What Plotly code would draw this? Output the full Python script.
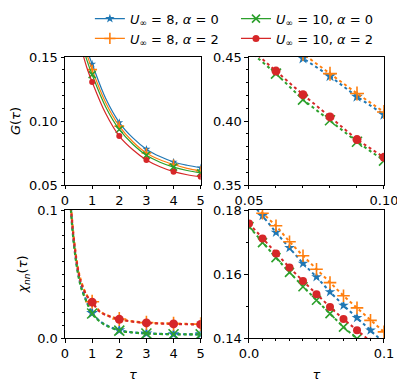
import plotly.graph_objects as go

# series: U_inf=8 a=0 (blue star), U_inf=8 a=2 (orange +), U_inf=10 a=0 (green x), U_inf=10 a=2 (red dot)
labels = ["<i>U</i><sub>∞</sub> = 8, <i>α</i> = 0", "<i>U</i><sub>∞</sub> = 8, <i>α</i> = 2",
          "<i>U</i><sub>∞</sub> = 10, <i>α</i> = 0", "<i>U</i><sub>∞</sub> = 10, <i>α</i> = 2"]
colors = ["#1f77b4", "#ff7f0e", "#2ca02c", "#d62728"]
symbols = ["star", "cross-thin", "x-thin", "circle"]

# top-left: G(tau), long times
tau_g = [0.6, 0.8, 1.0, 1.5, 2.0, 2.5, 3.0, 3.5, 4.0, 4.5, 5.0]
g_lines = [
    [0.170, 0.156, 0.1445, 0.1175, 0.0988, 0.0868, 0.0780, 0.0722, 0.0680, 0.0654, 0.0635],
    [0.167, 0.1525, 0.1401, 0.1142, 0.0960, 0.0838, 0.0750, 0.0697, 0.0660, 0.0630, 0.0610],
    [0.163, 0.148, 0.1362, 0.1110, 0.0934, 0.0818, 0.0732, 0.0678, 0.0640, 0.0613, 0.0595],
    [0.157, 0.142, 0.1305, 0.1058, 0.0882, 0.0775, 0.0695, 0.0642, 0.0604, 0.0580, 0.0565],
]
tau_int = [1, 2, 3, 4, 5]
g_marks = [
    [0.1445, 0.0988, 0.0780, 0.0680, 0.0635],
    [0.1401, 0.0960, 0.0750, 0.0660, 0.0610],
    [0.1362, 0.0934, 0.0732, 0.0640, 0.0595],
    [0.1305, 0.0882, 0.0695, 0.0604, 0.0565],
]

# top-right: G(tau), short times
tau_s = [0.05, 0.06, 0.07, 0.08, 0.09, 0.10]
g_short = [
    [0.483, 0.466, 0.449, 0.435, 0.419, 0.405],
    [0.486, 0.469, 0.4525, 0.437, 0.4215, 0.407],
    [0.455, 0.437, 0.4167, 0.4006, 0.3838, 0.369],
    [0.4575, 0.439, 0.4206, 0.4032, 0.3855, 0.3716],
]

# bottom-left: chi_nn(tau), long times
tau_c = [0.15, 0.2, 0.3, 0.4, 0.5, 0.6, 0.8, 1.0, 1.25, 1.5, 2.0, 2.5, 3.0, 4.0, 5.0]
chi_lines = [
    [0.129, 0.107, 0.080, 0.062, 0.049, 0.040, 0.0285, 0.0195, 0.0138, 0.0102, 0.0060, 0.0044, 0.0036, 0.0030, 0.0029],
    [0.131, 0.109, 0.083, 0.065, 0.052, 0.044, 0.0335, 0.0283, 0.0215, 0.0182, 0.0148, 0.0130, 0.0120, 0.0112, 0.0108],
    [0.128, 0.106, 0.079, 0.061, 0.048, 0.039, 0.0280, 0.0191, 0.0135, 0.0100, 0.0058, 0.0043, 0.0035, 0.0029, 0.0028],
    [0.130, 0.108, 0.082, 0.064, 0.051, 0.043, 0.0330, 0.0280, 0.0212, 0.0180, 0.0146, 0.0128, 0.0118, 0.0110, 0.0106],
]
chi_marks = [
    [0.0195, 0.0060, 0.0036, 0.0030, 0.0029],
    [0.0283, 0.0148, 0.0120, 0.0112, 0.0108],
    [0.0191, 0.0058, 0.0035, 0.0029, 0.0028],
    [0.0280, 0.0146, 0.0118, 0.0110, 0.0106],
]

# bottom-right: chi_nn(tau), short times
tau_cs = [0.00, 0.01, 0.02, 0.03, 0.04, 0.05, 0.06, 0.07, 0.08, 0.09, 0.10]
chi_short = [
    [0.1830, 0.1782, 0.1730, 0.1682, 0.1633, 0.1591, 0.1544, 0.1502, 0.1463, 0.1424, 0.1385],
    [0.1835, 0.1790, 0.1751, 0.1701, 0.1657, 0.1615, 0.1573, 0.1532, 0.1494, 0.1455, 0.1419],
    [0.1748, 0.1698, 0.1651, 0.1605, 0.1560, 0.1518, 0.1476, 0.1434, 0.1398, 0.1360, 0.1325],
    [0.1758, 0.1711, 0.1664, 0.1620, 0.1578, 0.1537, 0.1497, 0.1459, 0.1424, 0.1388, 0.1355],
]

FONT = "DejaVu Sans"
FS = 13
fig = go.Figure()


def marker(i, size):
    thin = symbols[i] in ("cross-thin", "x-thin")
    return dict(symbol=symbols[i], size=size + (1 if thin else 0), color=colors[i],
                line=dict(color=colors[i], width=1.6 if thin else 0))


for i in range(4):
    # top-left
    fig.add_trace(go.Scatter(x=tau_g, y=g_lines[i], mode="lines", line=dict(color=colors[i], width=1.2, shape="spline"),
                             xaxis="x", yaxis="y", showlegend=False))
    fig.add_trace(go.Scatter(x=tau_int, y=g_marks[i], mode="markers", marker=marker(i, 6),
                             xaxis="x", yaxis="y", showlegend=False))
    # top-right
    fig.add_trace(go.Scatter(x=tau_s, y=g_short[i], mode="lines+markers", line=dict(color=colors[i], width=2, dash="dot"),
                             marker=marker(i, 9), xaxis="x2", yaxis="y2", showlegend=False))
    # bottom-left
    fig.add_trace(go.Scatter(x=tau_c, y=chi_lines[i], mode="lines", line=dict(color=colors[i], width=2.2, dash="dot", shape="spline"),
                             xaxis="x3", yaxis="y3", showlegend=False))
    fig.add_trace(go.Scatter(x=tau_int, y=chi_marks[i], mode="markers", marker=marker(i, 9),
                             xaxis="x3", yaxis="y3", showlegend=False))
    # bottom-right
    fig.add_trace(go.Scatter(x=tau_cs, y=chi_short[i], mode="lines+markers", line=dict(color=colors[i], width=2, dash="dot"),
                             marker=marker(i, 8), xaxis="x4", yaxis="y4", showlegend=False))

# legend entries (two columns)
for i in range(4):
    fig.add_trace(go.Scatter(x=[None], y=[None], mode="lines+markers", name=labels[i],
                             line=dict(color=colors[i], width=1.2), marker=marker(i, 7),
                             xaxis="x", yaxis="y", legend="legend" if i < 2 else "legend2"))

axis_common = dict(showline=True, linecolor="black", linewidth=1, mirror=True, ticks="outside",
                   ticklen=3.5, tickwidth=1, tickcolor="black", showgrid=False, zeroline=False,
                   tickfont=dict(family=FONT, size=FS, color="black"))
minor = dict(ticks="outside", ticklen=2, tickwidth=0.8, tickcolor="black", dtick=0.01, tick0=0, showgrid=False)
title_font = dict(family=FONT, size=FS, color="black")

xl = [0, 0.4254]
xr = [0.5768, 1]
yt = [0.5445, 1]
yb = [0, 0.4555]

# page body has an 8px margin, so the figure is 8px smaller than the window
fig.update_layout(
    width=397, height=376,
    margin=dict(l=57, r=21, t=49, b=46, autoexpand=False),
    plot_bgcolor="white", paper_bgcolor="white",
    xaxis=dict(axis_common, domain=xl, anchor="y", range=[0, 5], tickvals=[0, 1, 2, 3, 4, 5]),
    yaxis=dict(axis_common, domain=yt, anchor="x", range=[0.05, 0.15], tickvals=[0.05, 0.10, 0.15],
               ticktext=["0.05", "0.10", "0.15"], minor=minor,
               title=dict(text="<i>G</i>(<i>τ</i>)", font=title_font, standoff=6)),
    xaxis2=dict(axis_common, domain=xr, anchor="y2", range=[0.05, 0.10], tickvals=[0.05, 0.10],
                ticktext=["0.05", "0.10"], minor=minor),
    yaxis2=dict(axis_common, domain=yt, anchor="x2", range=[0.35, 0.45], tickvals=[0.35, 0.40, 0.45],
                ticktext=["0.35", "0.40", "0.45"], minor=minor),
    xaxis3=dict(axis_common, domain=xl, anchor="y3", range=[0, 5], tickvals=[0, 1, 2, 3, 4, 5],
                title=dict(text="<i>τ</i>", font=title_font, standoff=9)),
    yaxis3=dict(axis_common, domain=yb, anchor="x3", range=[0, 0.1], tickvals=[0, 0.1],
                ticktext=["0.0", "0.1"], minor=minor,
                title=dict(text="<i>χ</i><sub><i>nn</i></sub>(<i>τ</i>)", font=title_font, standoff=6)),
    xaxis4=dict(axis_common, domain=xr, anchor="y4", range=[0, 0.1], tickvals=[0, 0.1],
                ticktext=["0.0", "0.1"], minor=minor,
                title=dict(text="<i>τ</i>", font=title_font, standoff=9)),
    yaxis4=dict(axis_common, domain=yb, anchor="x4", range=[0.14, 0.18], tickvals=[0.14, 0.16, 0.18],
                ticktext=["0.14", "0.16", "0.18"], minor=minor),
    legend=dict(x=0.078, y=1.19, xanchor="left", yanchor="top", bgcolor="rgba(0,0,0,0)",
                font=dict(family=FONT, size=FS, color="black"), tracegroupgap=0),
    legend2=dict(x=0.536, y=1.19, xanchor="left", yanchor="top", bgcolor="rgba(0,0,0,0)",
                 font=dict(family=FONT, size=FS, color="black"), tracegroupgap=0),
)

fig.write_html("out.html")
